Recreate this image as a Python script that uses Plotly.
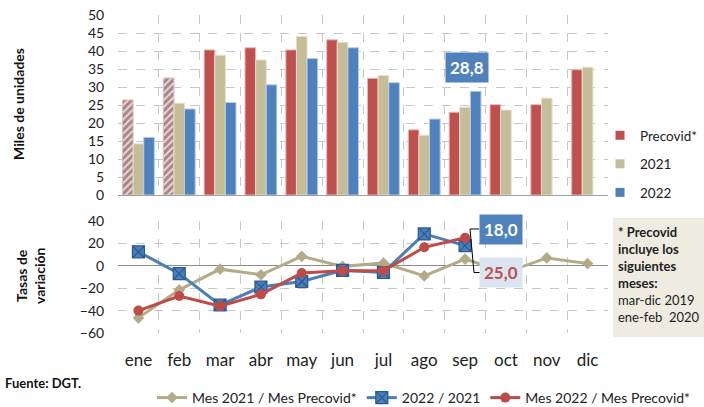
import plotly.graph_objects as go

W, H = 704, 407

months = ["ene", "feb", "mar", "abr", "may", "jun", "jul", "ago", "sep", "oct", "nov", "dic"]
precovid = [26.4, 32.5, 40.3, 40.9, 40.3, 43.1, 32.4, 18.1, 23.0, 25.1, 25.1, 34.8]
y2021 = [14.2, 25.5, 38.8, 37.5, 44.0, 42.4, 33.2, 16.6, 24.4, 23.6, 26.9, 35.5]
y2022 = [16.0, 23.9, 25.7, 30.6, 37.9, 40.9, 31.2, 21.1, 28.8, None, None, None]
var_2021_pre = [-46.5, -21.5, -3.0, -8.0, 8.5, -0.5, 2.5, -9.0, 6.0, -6.0, 7.0, 2.0]
var_2022_2021 = [12.5, -7.0, -35.0, -19.0, -14.0, -4.0, -6.0, 28.5, 18.0, None, None, None]
var_2022_pre = [-40.0, -27.0, -36.0, -25.5, -6.5, -4.5, -4.5, 16.5, 25.0, None, None, None]
hatched_months = ["ene", "feb"]
note_lines = ["<b>* Precovid</b>", "<b>incluye los</b>", "<b>siguientes</b>", "<b>meses:</b>",
              "mar-dic 2019", "ene-feb  2020"]

RED, TAN, BLUE = "#c0504d", "#c4bd97", "#4f81bd"
FONT = "Lato"


def px(x):
    return x / W


def py(y):
    return 1 - y / H


def fmt(v):
    return f"{v:.1f}".replace(".", ",")


fig = go.Figure()

pattern = ["/" if m in hatched_months else "" for m in months]
fig.add_trace(go.Bar(x=months, y=precovid, name="Precovid*", showlegend=False,
                     marker=dict(color=RED, line=dict(color="#e6b9b8", width=1),
                                 pattern=dict(shape=pattern, bgcolor="#f5d3d2", size=5, solidity=0.6)),
                     xaxis="x", yaxis="y"))
fig.add_trace(go.Bar(x=months, y=y2021, name="2021", showlegend=False,
                     marker=dict(color=TAN, line=dict(color="#e2dfcf", width=1)),
                     xaxis="x", yaxis="y"))
fig.add_trace(go.Bar(x=months, y=y2022, name="2022", showlegend=False,
                     marker=dict(color=BLUE, line=dict(color="#b9cde5", width=1)),
                     xaxis="x", yaxis="y"))

# legend swatches for bar series
for nm, col, g in [("Precovid*", RED, "a"), ("2021", TAN, "b"), ("2022", BLUE, "c")]:
    fig.add_trace(go.Scatter(x=[None], y=[None], mode="markers", name=nm, legend="legend",
                             legendgroup=g,
                             marker=dict(symbol="square", size=9, color=col),
                             xaxis="x", yaxis="y"))

fig.add_trace(go.Scatter(x=months, y=var_2021_pre, name="Mes 2021 / Mes Precovid*", mode="lines+markers",
                         line=dict(color="#b3ab88", width=3),
                         marker=dict(symbol="diamond", size=9, color="#b3ab88"),
                         legend="legend2", xaxis="x2", yaxis="y2"))
fig.add_trace(go.Scatter(x=months, y=var_2022_2021, name="2022 / 2021", mode="lines+markers",
                         line=dict(color="#4a7ebb", width=3),
                         marker=dict(symbol="square-x", size=12, color="#4a7ebb",
                                     line=dict(color="#2a5a90", width=1.2)),
                         legend="legend2", xaxis="x2", yaxis="y2"))
fig.add_trace(go.Scatter(x=months, y=var_2022_pre, name="Mes 2022 / Mes Precovid*", mode="lines+markers",
                         line=dict(color="#be4b48", width=3),
                         marker=dict(symbol="circle", size=10, color="#be4b48"),
                         legend="legend2", xaxis="x2", yaxis="y2"))

xdom = [px(118), px(608)]
grid = dict(showgrid=True, gridcolor="#c8c8c8", griddash="dash", gridwidth=1)
tickfont = dict(family=FONT, size=14, color="#222")

fig.update_layout(
    width=W, height=H,
    margin=dict(l=0, r=0, t=0, b=0, autoexpand=False),
    paper_bgcolor="white", plot_bgcolor="white",
    barmode="group", bargap=0.22, bargroupgap=0,
    font=dict(family=FONT, color="#222"),
    xaxis=dict(domain=xdom, anchor="y", type="category", tickson="boundaries",
               showticklabels=False, ticks="", showline=True, linecolor="#a0a0a0",
               range=[-0.5, 11.5], automargin=False, **grid),
    yaxis=dict(domain=[py(195), py(15)], anchor="x", range=[0, 50], dtick=5,
               ticks="outside", ticklen=10, tickcolor="rgba(0,0,0,0)", automargin=False,
               tickfont=tickfont, zeroline=False, **grid),
    xaxis2=dict(domain=xdom, anchor="y2", type="category", tickson="boundaries",
                ticks="", ticklabelstandoff=15, tickangle=0,
                tickfont=dict(family=FONT, size=17, color="#222"), automargin=False,
                range=[-0.5, 11.5], showline=False, **grid),
    yaxis2=dict(domain=[py(333), py(221)], anchor="x2", range=[-60, 40], dtick=20,
                ticks="outside", ticklen=10, tickcolor="rgba(0,0,0,0)", automargin=False,
                tickfont=tickfont, zeroline=True, zerolinecolor="#8c8c8c", zerolinewidth=1,
                **grid),
    legend=dict(x=px(600), y=py(120), xanchor="left", yanchor="top", orientation="v",
                font=dict(family=FONT, size=13.5, color="#222"), itemwidth=30,
                tracegroupgap=8, bgcolor="rgba(0,0,0,0)"),
    legend2=dict(x=px(152), y=py(398), xanchor="left", yanchor="middle", orientation="h",
                 font=dict(family=FONT, size=14, color="#222"), bgcolor="rgba(0,0,0,0)"),
)


def ann(text, x, y, **kw):
    d = dict(text=text, x=px(x), y=py(y), xref="paper", yref="paper", showarrow=False,
             xanchor="center", yanchor="middle")
    d.update(kw)
    return d


anns = [
    ann("<b>Miles de unidades</b>", 18, 104, textangle=-90,
        font=dict(family=FONT, size=14, color="#111")),
    ann("<b>Tasas de<br>variación</b>", 30, 275, textangle=-90,
        font=dict(family=FONT, size=14, color="#111")),
    ann("<b>Fuente: DGT.</b>", 3, 383, xanchor="left",
        font=dict(family=FONT, size=13, color="#111")),
    # value labels
    ann(f"<b>{fmt(y2022[8])}</b>", 466.5, 67.5, bgcolor=BLUE, borderpad=4,
        font=dict(family=FONT, size=17, color="white")),
    ann(f"<b>{fmt(var_2022_2021[8])}</b>", 500.5, 229, bgcolor=BLUE, borderpad=4,
        font=dict(family=FONT, size=17, color="white")),
    ann(f"<b>{fmt(var_2022_pre[8])}</b>", 501, 272.5, bgcolor="#dbe5f1", borderpad=4,
        font=dict(family=FONT, size=17, color=RED)),
    # note
    ann("<br>".join(note_lines), 616, 222, xanchor="left", yanchor="top", align="left",
        font=dict(family=FONT, size=13, color="#222")),
]
fig.update_layout(annotations=anns)

shapes = [
    dict(type="rect", xref="paper", yref="paper", x0=px(613), x1=px(704), y0=py(337), y1=py(218),
         fillcolor="#eeece1", line=dict(width=0), layer="below"),
    dict(type="path", xref="paper", yref="paper",
         path=f"M{px(479)},{py(229)} L{px(470)},{py(229)} L{px(474)},{py(272.5)} L{px(484)},{py(272.5)}",
         line=dict(color="black", width=1)),
]
fig.update_layout(shapes=shapes)

fig.write_html("out.html", config={"displayModeBar": False},
               post_script="document.body.style.margin='0';document.body.style.overflow='hidden';")
